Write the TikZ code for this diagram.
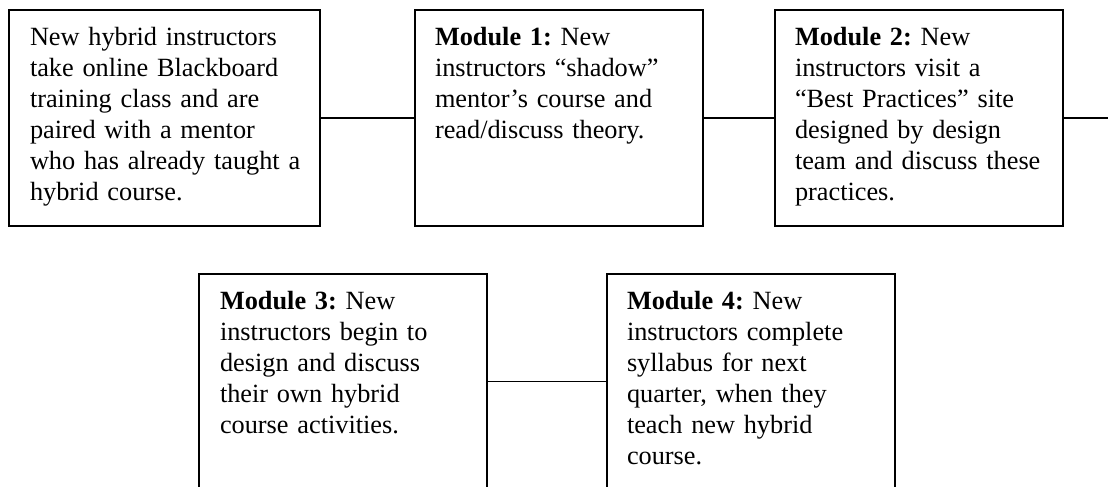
\documentclass[tikz,border=0pt]{standalone}
\usepackage{fontspec}
\setmainfont{Liberation Serif}
\usetikzlibrary{calc}
\frenchspacing
\tikzset{
  box/.style={draw=black, line width=1.7pt, rectangle, inner sep=0pt, outer sep=0pt, minimum height=216pt},
  txt/.style={anchor=base west, inner sep=0pt, outer sep=0pt, text width=320pt, align=left,
              font=\fontsize{26.3}{31}\selectfont\frenchspacing},
  conn/.style={draw=black, line width=1.7pt}
}
\begin{document}
\begin{tikzpicture}[x=1pt,y=-1pt]
\useasboundingbox (0,0) rectangle (1108,487);
\fill[white] (0,0) rectangle (1108,487);
\begin{scope}
\clip (0,0) rectangle (1108,487);
\node[box, minimum width=311pt] (b1) at (164.5,118) {};
\node[box, minimum width=288pt] (b2) at (559,118) {};
\node[box, minimum width=288pt] (b3) at (919,118) {};
\node[box, minimum width=288pt, minimum height=215pt] (b4) at (343,381.5) {};
\node[box, minimum width=288pt, minimum height=215pt] (b5) at (751,381.5) {};
\coordinate (out) at (1110,118);

\draw[conn] (b1.east) -- (b2.west);
\draw[conn] (b2.east) -- (b3.west);
\draw[conn] (b3.east) -- (out);
\draw[conn] (b4.east) -- (b5.west);
\end{scope}

\node[txt] (t1) at ($(b1.north west)+(21,35.7)$) {New hybrid instructors\\take online Blackboard\\training class and are\\paired with a mentor\\who has already taught a\\hybrid course.};
\node[txt] (t2) at ($(b2.north west)+(20,35.7)$) {\textbf{Module 1:} New\\instructors “shadow”\\mentor’s course and\\read/discuss theory.};
\node[txt] (t3) at ($(b3.north west)+(20,35.7)$) {\textbf{Module 2:} New\\instructors visit a\\“Best Practices” site\\designed by design\\team and discuss these\\practices.};
\node[txt] (t4) at ($(b4.north west)+(21,35)$) {\textbf{Module 3:} New\\instructors begin to\\design and discuss\\their own hybrid\\course activities.};
\node[txt] (t5) at ($(b5.north west)+(20,35)$) {\textbf{Module 4:} New\\instructors complete\\syllabus for next\\quarter, when they\\teach new hybrid\\course.};
\end{tikzpicture}
\end{document}
